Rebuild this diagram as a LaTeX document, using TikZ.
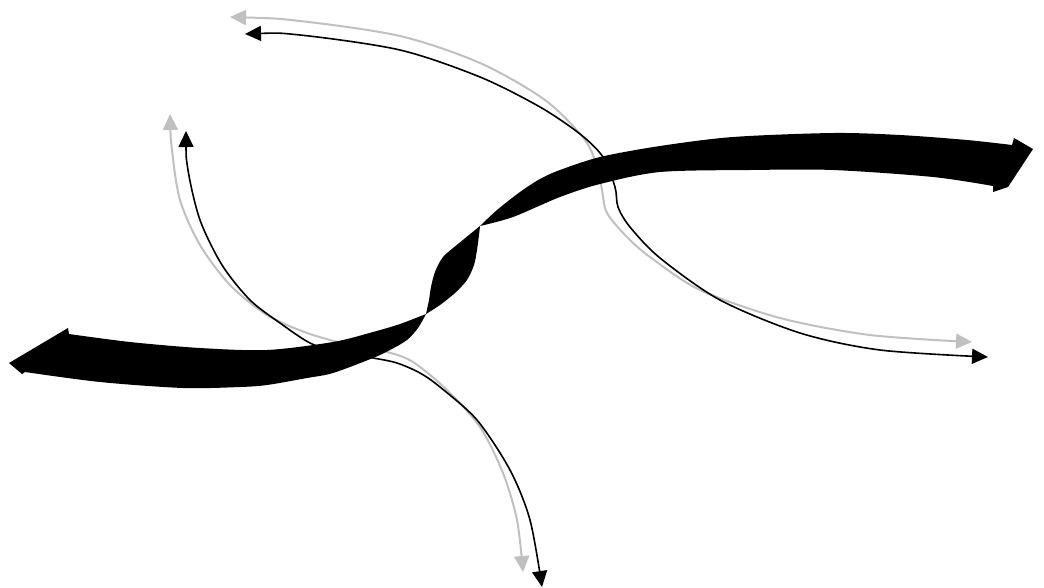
\documentclass[tikz,border=0pt]{standalone}
\usetikzlibrary{arrows.meta}
\definecolor{lightgr}{RGB}{192,192,192}
\tikzset{
  tipA/.tip={Triangle[length=16pt,width=15pt]},
  blk/.style={line width=1.6pt, black, tipA-tipA},
  gry/.style={line width=2pt, lightgr, tipA-tipA},
  ribbon/.style={fill=black}
}
\begin{document}
\begin{tikzpicture}[x=1pt,y=-1pt]
\useasboundingbox (0,0) rectangle (1044,587);
% upper-left to right pair
\draw[gry] plot[smooth] coordinates {(230,17) (300,21) (400,36) (480,63) (545,100) (585,140) (598,170) (602,190) (607,213) (627,237) (650,257) (700,290) (780,318) (870,335) (972,342)};
\draw[blk] plot[smooth] coordinates {(245,34) (300,35) (400,50) (480,77) (540,107) (580,134) (603,157) (615,187) (618,207) (630,227) (660,258) (720,300) (800,333) (880,350) (988,357)};
% left-up to bottom pair
\draw[gry] plot[smooth] coordinates {(170,114) (172,150) (180,200) (200,245) (230,285) (267,315) (307,333) (350,345) (387,352) (413,362) (447,390) (480,427) (503,473) (517,520) (523,572)};
\draw[blk] plot[smooth] coordinates {(186,131) (188,170) (200,220) (222,265) (250,300) (280,323) (310,343) (340,353) (373,358) (397,363) (420,373) (440,387) (477,420) (510,470) (530,520) (542,587)};
% twisted ribbon arrow
\fill[ribbon] (9,363) -- (68,328) -- (69,334)
  -- plot[smooth] coordinates {(69,334) (130,342) (200,348) (267,350) (333,342) (373,332) (400,324) (426,314)}
  -- plot[smooth] coordinates {(426,314) (429,300) (431,287) (435,272) (443,257) (458,244) (480,226)}
  -- plot[smooth] coordinates {(480,226) (497,210) (520,192) (540,179) (560,170) (600,157) (660,146) (733,137) (833,133) (900,135) (967,140) (1012,145)}
  -- (1014,138) -- (1033,149) -- (1008,187) -- (993,192) -- (993,186)
  -- plot[smooth] coordinates {(993,186) (933,177) (833,170) (750,170) (660,172) (600,184) (560,197) (513,217) (480,226)}
  -- plot[smooth] coordinates {(480,226) (479,235) (477,250) (474,265) (467,280) (455,293) (440,305) (426,314)}
  -- plot[smooth] coordinates {(426,314) (418,328) (407,340) (390,350) (373,358) (333,373) (307,378) (267,385) (240,387) (183,388) (100,382) (25,372)}
  -- (22,374) -- cycle;
\end{tikzpicture}
\end{document}
